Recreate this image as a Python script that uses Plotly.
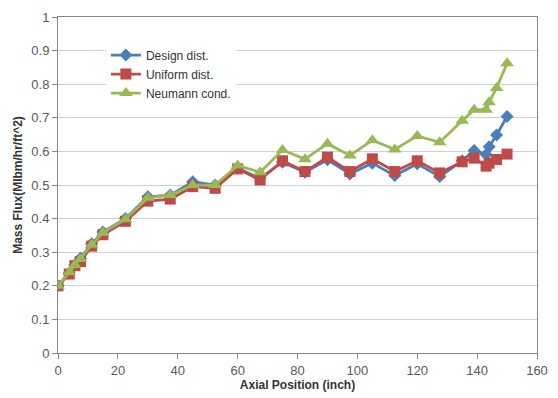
import plotly.graph_objects as go

axial_pos = [0, 3.75, 5.625, 7.5, 11.25, 15, 22.5, 30, 37.5, 45, 52.5, 60, 67.5, 75, 82.5, 90,
             97.5, 105, 112.5, 120, 127.5, 135, 139, 143, 144, 146.5, 150]
design = [0.2, 0.238, 0.262, 0.282, 0.325, 0.36, 0.40, 0.465, 0.47, 0.51, 0.50, 0.55, 0.52,
          0.568, 0.538, 0.575, 0.533, 0.565, 0.528, 0.563, 0.525, 0.572, 0.603, 0.591, 0.614,
          0.649, 0.704]
uniform = [0.2, 0.235, 0.26, 0.272, 0.318, 0.352, 0.392, 0.452, 0.458, 0.495, 0.49, 0.548, 0.515,
           0.572, 0.54, 0.583, 0.54, 0.578, 0.54, 0.572, 0.536, 0.569, 0.58, 0.556, 0.565,
           0.576, 0.592]
neumann = [0.2, 0.24, 0.262, 0.28, 0.322, 0.358, 0.398, 0.462, 0.47, 0.50, 0.50, 0.558, 0.538,
           0.604, 0.577, 0.623, 0.588, 0.633, 0.606, 0.646, 0.627, 0.691, 0.724, 0.724, 0.746,
           0.789, 0.862]

series = [
    ("Design dist.", design, "#4A7EBB", "diamond", 10),
    ("Uniform dist.", uniform, "#BE4B48", "square", 11),
    ("Neumann cond.", neumann, "#98B954", "triangle-up", 12),
]

fig = go.Figure()
for name, vals, color, sym, size in series:
    fig.add_trace(go.Scatter(
        x=axial_pos, y=vals, name=name, mode="lines+markers",
        line=dict(color=color, width=2.75),
        marker=dict(symbol=sym, size=size, color=color, line=dict(width=0)),
    ))

font_fam = "Liberation Sans, Arial, sans-serif"
fig.update_layout(
    width=558, height=398,
    margin=dict(l=58, r=10, t=14, b=39),
    paper_bgcolor="white", plot_bgcolor="white",
    font=dict(family=font_fam, color="#595959", size=13),
    showlegend=True,
    legend=dict(x=0.1, y=0.93, xanchor="left", yanchor="top",
                bgcolor="white", borderwidth=0,
                font=dict(size=12, color="#333333"),
                itemwidth=30, tracegroupgap=0),
    xaxis=dict(range=[0, 160], dtick=20, showgrid=False,
               showline=True, linecolor="#868686", linewidth=1, mirror=True,
               ticks="outside", ticklen=5, tickcolor="#868686", zeroline=False,
               title=dict(text="<b>Axial Position (inch)</b>", standoff=2,
                          font=dict(size=12, color="#333333"))),
    yaxis=dict(range=[0, 1], dtick=0.1, showgrid=True, gridcolor="#D0D0D0", gridwidth=1,
               showline=True, linecolor="#868686", linewidth=1, mirror=True,
               ticks="outside", ticklen=5, tickcolor="#868686", zeroline=False,
               tickformat="~g",
               title=dict(text="<b>Mass Flux(Mlbm/hr/ft^2)</b>", standoff=6,
                          font=dict(size=12, color="#333333"))),
)
fig.write_html("out.html")
